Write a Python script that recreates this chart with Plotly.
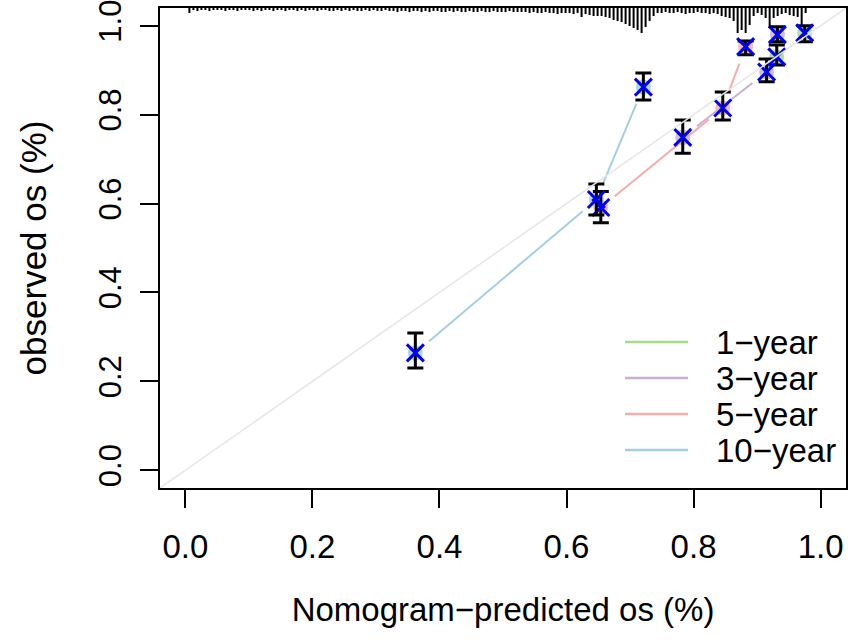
import math

import numpy as np
import plotly.graph_objects as go

# calibration points: predicted, observed, CI low, CI high
p1 = [0.931, 0.975]
o1 = [0.930, 0.984]
lo1 = [0.912, 0.964]
hi1 = [0.957, 1.000]

p3 = [0.783, 0.915, 0.932]
o3 = [0.749, 0.896, 0.980]
lo3 = [0.713, 0.874, 0.964]
hi3 = [0.788, 0.925, 0.998]

p5 = [0.654, 0.846, 0.882]
o5 = [0.591, 0.815, 0.953]
lo5 = [0.557, 0.788, 0.935]
hi5 = [0.627, 0.851, 0.966]

p10 = [0.362, 0.647, 0.721]
o10 = [0.264, 0.609, 0.862]
lo10 = [0.230, 0.574, 0.833]
hi10 = [0.309, 0.644, 0.894]

labels = ["1\u2212year", "3\u2212year", "5\u2212year", "10\u2212year"]
colors = ["#A8DB8A", "#C9B1D6", "#F5AEAE", "#A6CEE3"]

# distribution of predicted values (rug along the top), bin start / width and counts
rug_start = 0.0063
rug_step = 0.0063
rug_n = [5,
         2, 3, 2, 2, 3, 2, 2, 2, 3, 2, 2, 3, 2, 2, 2, 3, 2, 3, 2, 2, 3, 2, 2, 3, 2,
         2, 3, 2, 3, 2, 2, 3, 2, 2, 3, 3, 2, 3, 2, 3, 2, 3, 3, 2, 3, 2, 3, 3, 2,
         3, 3, 4, 3, 3, 4, 3, 3, 4, 3, 4, 3, 3, 4, 4, 3, 4, 3, 4, 4, 3, 4, 4, 3,
         4, 4, 3, 4, 4, 4, 3, 4, 4, 4, 4, 5, 4,
         5, 5, 4, 5, 5, 6, 5, 5, 5, 6, 5,
         9, 6, 7, 8, 8, 8, 9, 10, 12, 13, 14, 16, 18, 20, 22, 25, 19, 13, 8, 5,
         5, 4, 5, 5, 4, 5, 6, 5, 5, 4, 5, 5, 6, 5,
         6, 8, 9, 10, 13, 25, 22, 25, 17, 8, 5, 7, 10, 20, 10, 8, 6, 5, 7, 8, 9, 18, 5]

W, H = 851, 640
ML, MR, MT, MB = 160, 5, 8, 152
xr = [-0.04, 1.04]
yr = [-0.04, 1.04]
sx = (W - ML - MR) / (xr[1] - xr[0])
sy = (H - MT - MB) / (yr[1] - yr[0])
gap = 18

font = "Liberation Sans, Arial, sans-serif"


def gapped(xs, ys):
    # line between points with a gap round each point (like R type="b")
    gx, gy = [], []
    for i in range(len(xs) - 1):
        dx = (xs[i + 1] - xs[i]) * sx
        dy = (ys[i + 1] - ys[i]) * sy
        L = math.hypot(dx, dy)
        if L <= 2 * gap:
            continue
        f = gap / L
        gx += [xs[i] + f * (xs[i + 1] - xs[i]), xs[i + 1] - f * (xs[i + 1] - xs[i]), None]
        gy += [ys[i] + f * (ys[i + 1] - ys[i]), ys[i + 1] - f * (ys[i + 1] - ys[i]), None]
    return gx, gy


series = [(p1, o1, lo1, hi1), (p3, o3, lo3, hi3), (p5, o5, lo5, hi5), (p10, o10, lo10, hi10)]

fig = go.Figure()

for (px_, ob, lo, hi), c in zip(series, colors):
    gx, gy = gapped(px_, ob)
    fig.add_trace(go.Scatter(x=gx, y=gy, mode="lines", line=dict(color=c, width=2),
                             hoverinfo="skip", showlegend=False))

for (px_, ob, lo, hi), c in zip(series, colors):
    fig.add_trace(go.Scatter(x=px_, y=ob, mode="markers",
                             marker=dict(symbol="circle", size=15, color=c, opacity=0.85),
                             showlegend=False))

for (px_, ob, lo, hi), c in zip(series, colors):
    fig.add_trace(go.Scatter(
        x=px_, y=ob, mode="markers",
        marker=dict(symbol="x-thin", size=17, line=dict(color="blue", width=3)),
        error_y=dict(type="data", symmetric=False,
                     array=[h - o for h, o in zip(hi, ob)],
                     arrayminus=[o - l for o, l in zip(ob, lo)],
                     color="black", thickness=3, width=8),
        showlegend=False))

# rug of predicted values hanging from the top border
rx, ry = [], []
for i, n in enumerate(rug_n):
    x = rug_start + i * rug_step
    rx += [x, x, None]
    ry += [yr[1], yr[1] - n / sy, None]
fig.add_trace(go.Scatter(x=rx, y=ry, mode="lines", line=dict(color="black", width=2),
                         hoverinfo="skip", showlegend=False))

# ideal line
fig.add_trace(go.Scatter(x=xr, y=yr, mode="lines", line=dict(color="#e6e6e6", width=1.5),
                         hoverinfo="skip", showlegend=False))

# legend (drawn by hand, R style)
for i, (lab, c) in enumerate(zip(labels, colors)):
    yy = 0.304 - i * 0.075
    fig.add_shape(type="line", xref="paper", yref="paper",
                  x0=(625 - ML) / (W - ML - MR), x1=(688 - ML) / (W - ML - MR),
                  y0=yy, y1=yy, line=dict(color=c, width=2.5))
    fig.add_annotation(xref="paper", yref="paper", x=(714 - ML) / (W - ML - MR), y=yy,
                       text=lab, showarrow=False, xanchor="left", yanchor="middle",
                       font=dict(size=33, color="black", family=font))

fig.update_xaxes(range=xr, tickvals=[0, 0.2, 0.4, 0.6, 0.8, 1.0],
                 ticktext=["0.0", "0.2", "0.4", "0.6", "0.8", "1.0"],
                 ticks="outside", ticklen=18, tickwidth=2, tickcolor="black",
                 showline=True, linewidth=2, linecolor="black", mirror=True,
                 showgrid=False, zeroline=False, ticklabelstandoff=10, automargin=False,
                 ticklabeloverflow="allow",
                 tickfont=dict(size=33, color="black", family=font),
                 title=dict(text="Nomogram\u2212predicted os (%)", standoff=34,
                            font=dict(size=33, color="black", family=font)))
fig.update_yaxes(range=yr, tickvals=[0, 0.2, 0.4, 0.6, 0.8, 1.0],
                 ticktext=["0.0", "0.2", "0.4", "0.6", "0.8", "1.0"],
                 ticks="outside", ticklen=18, tickwidth=2, tickcolor="black",
                 showline=True, linewidth=2, linecolor="black", mirror=True,
                 showgrid=False, zeroline=False, tickangle=-90, ticklabelstandoff=7,
                 automargin=False, ticklabeloverflow="allow",
                 tickfont=dict(size=31, color="black", family=font),
                 title=dict(text="observed os (%)", standoff=35,
                            font=dict(size=35, color="black", family=font)))

fig.update_layout(width=W, height=H, margin=dict(l=ML, r=MR, t=MT, b=MB),
                  plot_bgcolor="white", paper_bgcolor="white", showlegend=False)

# drop the browser's default page margin so the figure sits at the window corner
fig.write_html("out.html", config={"displayModeBar": False},
               post_script="document.body.style.margin='0';")
